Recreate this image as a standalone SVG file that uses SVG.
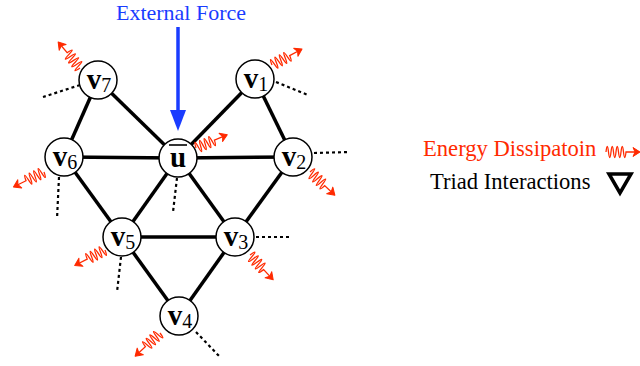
<svg xmlns="http://www.w3.org/2000/svg" xmlns:xlink="http://www.w3.org/1999/xlink" width="640" height="366" viewBox="0 0 640 366">
<style>
.edge{stroke:#000;stroke-width:3.5;fill:none}
.dash{stroke:#000;stroke-width:2.2;stroke-dasharray:3,3;fill:none}
.node circle{fill:#fff;stroke:#000;stroke-width:1.5}
.lbl{font-family:"Liberation Serif","DejaVu Serif",serif;fill:#000}
.v{font-weight:bold;font-size:29px}
.sub{font-size:20px}
.wave{stroke:#ff2a00;stroke-width:1.3;fill:none}
.t{font-family:"Liberation Serif",serif;font-size:22.6px}
</style>
<defs>
<g id="wv">
<path class="wave" d="M0,0 q1.25,-11 2.5,0 t2.5,0 t2.5,0 t2.5,0 t2.5,0 t2.5,0 t2.5,0 t2.5,0 L33,0"/>
<path d="M27,-4.5 L34,0 L27,4.5 L29,0 Z" fill="#ff2a00" stroke="#ff2a00" stroke-width="1" stroke-linejoin="round"/>
</g>
</defs>
<rect width="640" height="366" fill="#fff"/>

<text class="t" x="181" y="20" fill="#1a3cff" text-anchor="middle" style="font-size:22px">External Force</text>
<g id="force">
<line x1="178" y1="27" x2="178" y2="112" stroke="#1a3cff" stroke-width="3.5"/>
<polygon points="170,110 186,110 178,131" fill="#1a3cff"/>
</g>

<g id="connectors">
<line class="edge" x1="98" y1="80" x2="64" y2="157"/>
<line class="edge" x1="98" y1="80" x2="178" y2="158"/>
<line class="edge" x1="255" y1="79" x2="178" y2="158"/>
<line class="edge" x1="255" y1="79" x2="293" y2="157"/>
<line class="edge" x1="64" y1="157" x2="178" y2="158"/>
<line class="edge" x1="178" y1="158" x2="293" y2="157"/>
<line class="edge" x1="64" y1="157" x2="122" y2="237"/>
<line class="edge" x1="178" y1="158" x2="122" y2="237"/>
<line class="edge" x1="178" y1="158" x2="235" y2="237"/>
<line class="edge" x1="293" y1="157" x2="235" y2="237"/>
<line class="edge" x1="122" y1="237" x2="235" y2="237"/>
<line class="edge" x1="122" y1="237" x2="179" y2="316"/>
<line class="edge" x1="235" y1="237" x2="179" y2="316"/>
<line class="dash" x1="80" y1="85" x2="43" y2="97"/>
<line class="dash" x1="276" y1="82" x2="308" y2="95"/>
<line class="dash" x1="177" y1="178" x2="173" y2="212"/>
<line class="dash" x1="59" y1="177" x2="57" y2="219"/>
<line class="dash" x1="314" y1="153" x2="350" y2="152"/>
<line class="dash" x1="121" y1="257" x2="117" y2="292"/>
<line class="dash" x1="256" y1="237" x2="292" y2="237"/>
<line class="dash" x1="196" y1="332" x2="220" y2="357"/>
</g>

<g id="dissipation">
<use xlink:href="#wv" transform="translate(80,68) rotate(-130)"/>
<use xlink:href="#wv" transform="translate(272,65) rotate(-28)"/>
<use xlink:href="#wv" transform="translate(196,148) rotate(-23)"/>
<use xlink:href="#wv" transform="translate(44,172) rotate(154)"/>
<use xlink:href="#wv" transform="translate(310,172) rotate(43)"/>
<use xlink:href="#wv" transform="translate(105,250) rotate(153)"/>
<use xlink:href="#wv" transform="translate(250,255) rotate(47)"/>
<use xlink:href="#wv" transform="translate(160,333) rotate(137)"/>
</g>

<g id="v7" class="node"><circle cx="98" cy="80" r="19"/><text class="lbl" x="99" y="89" text-anchor="middle"><tspan class="v">v</tspan><tspan class="sub" dy="3">7</tspan></text></g>
<g id="v1" class="node"><circle cx="255" cy="79" r="19"/><text class="lbl" x="256" y="88" text-anchor="middle"><tspan class="v">v</tspan><tspan class="sub" dy="3">1</tspan></text></g>
<g id="u" class="node"><circle cx="178" cy="158" r="19"/><text class="lbl v" x="178" y="167" text-anchor="middle">u</text><line x1="169" y1="145" x2="187" y2="145" stroke="#000" stroke-width="1.6"/></g>
<g id="v6" class="node"><circle cx="64" cy="157" r="19"/><text class="lbl" x="65" y="166" text-anchor="middle"><tspan class="v">v</tspan><tspan class="sub" dy="3">6</tspan></text></g>
<g id="v2" class="node"><circle cx="293" cy="157" r="19"/><text class="lbl" x="294" y="166" text-anchor="middle"><tspan class="v">v</tspan><tspan class="sub" dy="3">2</tspan></text></g>
<g id="v5" class="node"><circle cx="122" cy="237" r="19"/><text class="lbl" x="123" y="246" text-anchor="middle"><tspan class="v">v</tspan><tspan class="sub" dy="3">5</tspan></text></g>
<g id="v3" class="node"><circle cx="235" cy="237" r="19"/><text class="lbl" x="236" y="246" text-anchor="middle"><tspan class="v">v</tspan><tspan class="sub" dy="3">3</tspan></text></g>
<g id="v4" class="node"><circle cx="179" cy="316" r="19"/><text class="lbl" x="180" y="325" text-anchor="middle"><tspan class="v">v</tspan><tspan class="sub" dy="3">4</tspan></text></g>

<g id="legend">
<text class="t" x="423" y="156" fill="#ff2a00">Energy Dissipatoin</text>
<use xlink:href="#wv" transform="translate(606,152)"/>
<text class="t" x="430" y="189" fill="#000">Triad Interactions</text>
<polygon points="609,174 631,174 620,193" fill="none" stroke="#000" stroke-width="3.5" stroke-linejoin="miter"/>
</g>
</svg>
